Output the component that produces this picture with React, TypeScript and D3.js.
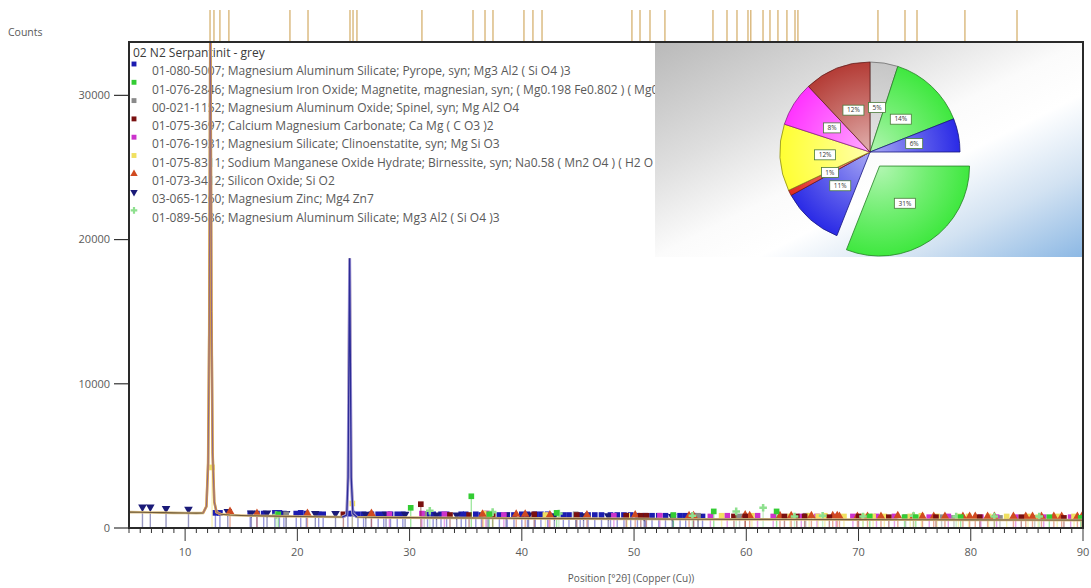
import React from 'react';
import * as d3 from 'd3';

// ---------------- data ----------------
const sampleName = '02 N2 Serpantinit - grey';
const phaseRefs = [
  '01-080-5007; Magnesium Aluminum Silicate; Pyrope, syn; Mg3 Al2 ( Si O4 )3',
  '01-076-2846; Magnesium Iron Oxide; Magnetite, magnesian, syn; ( Mg0.198 Fe0.802 ) ( Mg0.802 Fe1.198 ) O4',
  '00-021-1152; Magnesium Aluminum Oxide; Spinel, syn; Mg Al2 O4',
  '01-075-3697; Calcium Magnesium Carbonate; Ca Mg ( C O3 )2',
  '01-076-1931; Magnesium Silicate; Clinoenstatite, syn; Mg Si O3',
  '01-075-8311; Sodium Manganese Oxide Hydrate; Birnessite, syn; Na0.58 ( Mn2 O4 ) ( H2 O )1.5',
  '01-073-3412; Silicon Oxide; Si O2',
  '03-065-1260; Magnesium Zinc; Mg4 Zn7',
  '01-089-5686; Magnesium Aluminum Silicate; Mg3 Al2 ( Si O4 )3',
];

// measured scan: [2theta, counts]
const scanPoints: [number, number][] = [
  [5, 1100], [6, 1090], [7, 1080], [8, 1065], [9, 1050], [10, 1040], [11, 1030], [11.6, 1040],
  [11.9, 1500], [12.05, 4500], [12.15, 14000], [12.25, 36000], [12.35, 15000], [12.45, 5200],
  [12.6, 1800], [12.8, 1100], [13.2, 950], [14, 900], [15, 870], [16, 850], [18, 820], [20, 800],
  [22, 780], [24, 760], [24.4, 900], [24.52, 3500], [24.6, 12000], [24.66, 18700], [24.72, 12000],
  [24.8, 3500], [24.95, 1000], [25.3, 760], [27, 740], [30, 720], [33, 700], [36, 690], [40, 670],
  [45, 650], [50, 630], [55, 610], [60, 600], [65, 590], [70, 580], [75, 570], [80, 560], [85, 550], [90, 545],
];

// peak list positions (top ticks), 2theta
const peakListPositions = [
  12.22, 12.57, 13.1, 13.9, 19.34, 20.95, 24.69, 24.96, 25.31, 31.1, 35.65, 36.72, 37.43,
  40.19, 40.99, 41.8, 49.81, 50.53, 51.42, 52.75, 57.03, 58.28, 59.17, 60.15, 60.4, 61.49,
  62.11, 62.82, 63.62, 64.34, 64.6, 71.73, 74.14, 75.21, 79.48, 84.12,
];

// reference stick patterns: [2theta, counts]
const pyropeSticks: [number, number][] = [
  [12.7, 1050], [13.1, 1050], [15.8, 1000], [16.4, 1000], [17.0, 1000], [18.0, 1050], [18.4, 1050],
  [18.8, 1000], [19.9, 1000], [20.3, 1050], [20.8, 1000], [21.9, 950], [22.3, 950], [24.5, 1000],
  [24.9, 1000], [25.4, 950], [25.9, 950], [26.6, 950], [27.2, 950], [27.7, 950], [28.3, 950],
  [28.9, 950], [29.4, 950], [31.6, 950], [32.1, 950], [32.8, 950], [33.3, 950], [34.6, 950],
  [35.0, 950], [35.9, 950], [36.4, 900], [37.0, 900], [38.0, 900], [38.7, 900], [39.3, 900],
  [40.0, 950], [40.5, 950], [41.2, 950], [41.7, 950], [42.3, 950], [43.7, 900], [44.2, 900],
  [44.8, 900], [45.2, 900], [45.9, 900], [46.5, 900], [47.1, 900], [47.9, 900], [48.5, 900],
  [49.1, 900], [49.7, 900], [50.3, 850], [51.0, 850], [51.6, 850], [52.2, 850], [52.8, 850],
  [53.5, 850], [54.1, 850], [54.6, 850], [55.3, 850], [56.1, 800],
];
const magnetiteSticks: [number, number][] = [
  [18.3, 950], [30.1, 1400], [35.5, 2200], [37.1, 950], [43.1, 1050], [53.5, 900], [57.1, 1150],
  [62.7, 1150], [71.0, 800], [74.1, 750], [75.1, 750], [79.1, 750], [87.0, 750], [89.8, 700],
];
const spinelSticks: [number, number][] = [
  [19.0, 950], [31.3, 950], [36.9, 1000], [44.8, 950], [55.7, 850], [59.4, 800], [65.3, 850],
  [74.2, 750], [77.4, 750], [78.5, 700], [82.6, 700], [85.7, 700],
];
const dolomiteSticks: [number, number][] = [
  [24.1, 950], [31.0, 1650], [33.6, 900], [35.3, 900], [37.4, 900], [41.1, 950], [44.9, 900],
  [49.3, 850], [50.6, 850], [51.1, 850], [58.9, 800], [59.9, 800], [63.4, 800], [64.5, 800],
  [65.2, 800], [67.4, 750], [70.0, 800], [72.7, 750], [76.9, 750], [80.8, 750], [84.5, 750], [88.3, 700],
];
const clinoenstatiteSticks: [number, number][] = [
  [28.2, 950], [31.1, 1000], [33.1, 950], [36.8, 1000], [38.4, 900], [42.4, 900], [48.2, 850],
  [52.3, 850], [56.8, 800], [58.3, 850], [61.0, 850], [62.4, 800], [64.9, 800], [66.3, 800],
  [68.0, 800], [69.5, 800], [71.6, 800], [73.2, 800], [76.3, 750], [78.0, 800], [80.9, 750],
  [82.3, 750], [84.0, 750], [86.5, 750], [88.9, 750],
];
const birnessiteSticks: [number, number][] = [
  [12.4, 4200], [24.9, 1700], [36.6, 1000], [37.4, 950], [42.1, 900], [49.4, 850], [57.8, 850],
  [60.5, 850], [63.9, 800], [65.6, 850], [66.4, 800], [67.0, 850], [68.7, 800], [70.4, 800],
  [71.3, 800], [72.3, 800], [74.6, 800], [75.6, 850], [77.0, 800], [78.9, 800], [79.8, 800],
  [81.6, 800], [83.2, 800], [85.1, 800], [86.0, 750], [87.7, 800], [89.2, 800],
];
const silicaSticks: [number, number][] = [
  [14.0, 1150], [16.4, 1000], [20.9, 1000], [26.6, 1000], [36.5, 950], [39.5, 950], [40.3, 950],
  [42.5, 900], [45.8, 900], [50.1, 900], [54.9, 850], [55.3, 850], [59.9, 900], [60.3, 850],
  [63.0, 850], [64.0, 850], [65.8, 850], [67.7, 850], [68.1, 850], [68.3, 800], [69.9, 800],
  [70.8, 800], [72.0, 800], [73.5, 850], [74.9, 800], [75.7, 800], [76.7, 800], [77.7, 800],
  [79.3, 800], [79.9, 800], [80.4, 800], [81.5, 800], [82.1, 800], [83.8, 800], [84.9, 800],
  [85.5, 800], [86.3, 800], [87.4, 800], [88.1, 800], [89.5, 800], [89.9, 800],
];
const mgZnSticks: [number, number][] = [
  [6.2, 1450], [6.9, 1450], [8.3, 1350], [10.3, 1300], [13.8, 1150], [15.9, 1050], [17.3, 1050],
  [19.0, 1000], [21.6, 1000], [23.4, 1000], [26.1, 950], [27.9, 950], [29.6, 950], [32.4, 900],
  [34.2, 900], [38.6, 900], [40.6, 900], [42.9, 850], [45.5, 850], [47.7, 850], [50.9, 800],
  [53.4, 800], [55.7, 800],
];
const garnetSticks: [number, number][] = [
  [18.1, 900], [31.8, 1200], [37.4, 1100], [43.3, 1000], [55.2, 850], [59.1, 1150], [61.5, 1400],
  [64.3, 800], [66.8, 850], [70.4, 800], [74.9, 850], [78.7, 800], [82.1, 800], [86.1, 800],
];

const xTickValues = [10, 20, 30, 40, 50, 60, 70, 80, 90];
const yTickValues = [0, 10000, 20000, 30000];
const xTitle = 'Position [°2θ] (Copper (Cu))';
const yTitle = 'Counts';

// semi-quantitative pie (%), same order as drawn clockwise from top
const pieValues = [5, 14, 6, 31, 11, 1, 12, 8, 12];
const explodedSlice = 3;

// ---------------- styles ----------------
const phaseColors = ['#1c1cb0', '#33cc33', '#8a8a8a', '#7a1010', '#cc33cc', '#f0e060', '#d04a20', '#1a1a78', '#8ee08e'];
const phaseShapes = ['square', 'square', 'square', 'square', 'square', 'square', 'triangle', 'triangleDown', 'cross'];
const pieColors = ['#c6c6c6', '#3fe83f', '#2a2ae6', '#3fe83f', '#2a2ae6', '#e02a20', '#ffff33', '#ff33ff', '#b43c36'];

const X0 = 129, X1 = 1083, Y0 = 528, Y1 = 42;

function symbolPath(shape: string, size: number) {
  const t = shape === 'square' ? d3.symbolSquare : shape === 'cross' ? d3.symbolCross : d3.symbolTriangle;
  return d3.symbol().type(t).size(size)() as string;
}

export default function App() {
  const x = d3.scaleLinear().domain([5, 90]).range([X0, X1]);
  const y = d3.scaleLinear().domain([0, 33700]).range([Y0, Y1]);
  const line = d3.line<[number, number]>().x(d => x(d[0])).y(d => y(d[1]));

  const allSticks = [pyropeSticks, magnetiteSticks, spinelSticks, dolomiteSticks, clinoenstatiteSticks,
    birnessiteSticks, silicaSticks, mgZnSticks, garnetSticks];
  const drawOrder = [0, 7, 2, 4, 5, 6, 3, 8, 1];

  const peak1 = scanPoints.filter(p => p[0] >= 11.6 && p[0] <= 13.2);
  const peak2 = scanPoints.filter(p => p[0] >= 24.0 && p[0] <= 25.3);

  const minorTicks = d3.range(5, 91, 1);

  // pie
  const pcx = 870, pcy = 152, pr = 90;
  const arcs = d3.pie<number>().sort(null).value(d => d)(pieValues);
  const arcGen = d3.arc<d3.PieArcDatum<number>>().innerRadius(0).outerRadius(pr);

  const textColor = '#5a5a5a';
  const legendFont = 12;

  return (
    <div style={{ position: 'absolute', left: 0, top: 0 }}>
      <svg width={1091} height={588} style={{ display: 'block', background: '#fff', fontFamily: '"Open Sans", "DejaVu Sans", sans-serif' }}>
        <defs>
          <clipPath id="plotClip">
            <rect x={X0} y={Y1} width={X1 - X0} height={Y0 - Y1} />
          </clipPath>
          <linearGradient id="panelBg" x1="0" y1="0" x2="1" y2="1">
            <stop offset="0" stopColor="#b9b9b9" />
            <stop offset="0.3" stopColor="#dedede" />
            <stop offset="0.5" stopColor="#fbfbfb" />
            <stop offset="0.62" stopColor="#ffffff" />
            <stop offset="0.8" stopColor="#d2e2f2" />
            <stop offset="1" stopColor="#8cb8e4" />
          </linearGradient>
          {pieColors.map((c, i) => (
            <radialGradient key={i} id={`pg${i}`} gradientUnits="userSpaceOnUse" cx={0} cy={0} r={pr}>
              <stop offset="0" stopColor={d3.interpolateRgb(c, '#ffffff')(0.6)} />
              <stop offset="0.55" stopColor={d3.interpolateRgb(c, '#ffffff')(0.25)} />
              <stop offset="1" stopColor={c} />
            </radialGradient>
          ))}
        </defs>

        {/* y title */}
        <text x={8} y={36} fontSize={10.5} fill={textColor}>{yTitle}</text>

        {/* peak list ticks above plot */}
        {peakListPositions.map((p, i) => (
          <line key={i} x1={x(p)} x2={x(p)} y1={10} y2={Y1} stroke="#d9b77a" strokeWidth={1.4} />
        ))}

        {/* y axis ticks */}
        {yTickValues.map(v => (
          <g key={v}>
            <line x1={114} x2={X0} y1={y(v)} y2={y(v)} stroke="#333" strokeWidth={1.2} />
            <text x={110} y={y(v)} dy="0.35em" textAnchor="end" fontSize={11} fill={textColor}>{v}</text>
          </g>
        ))}

        {/* x axis ticks */}
        {minorTicks.map(v => (
          <line key={v} x1={x(v)} x2={x(v)} y1={Y0} y2={Y0 + (v % 10 === 0 ? 13 : 5)} stroke="#333" strokeWidth={1} />
        ))}
        {xTickValues.map(v => (
          <text key={v} x={x(v)} y={552} dy="0.35em" textAnchor="middle" fontSize={11} fill={textColor}>{v}</text>
        ))}
        <text x={631} y={578} dy="0.35em" textAnchor="middle" fontSize={10} fill={textColor}>{xTitle}</text>

        {/* legend */}
        <text x={133} y={53} dy="0.35em" fontSize={legendFont} fill="#3a3a3a">{sampleName}</text>
        {phaseRefs.map((t, i) => {
          const ty = 71 + 18.3 * i;
          return (
            <g key={i}>
              <path d={symbolPath(phaseShapes[i], 24)} transform={`translate(134,${ty - 7})${phaseShapes[i] === 'triangleDown' ? ' rotate(180)' : ''}`} fill={phaseColors[i]} />
              <text x={152} y={ty} dy="0.35em" fontSize={legendFont} fill={textColor}>{t}</text>
            </g>
          );
        })}

        {/* sticks + scan */}
        <g clipPath="url(#plotClip)">
          {drawOrder.map(pi => (
            <g key={pi}>
              {allSticks[pi].map((s, j) => (
                <line key={j} x1={x(s[0])} x2={x(s[0])} y1={y(0)} y2={y(s[1])} stroke={phaseColors[pi]} strokeOpacity={0.45} strokeWidth={1.4} />
              ))}
              {allSticks[pi].map((s, j) => (
                <path key={'m' + j} d={symbolPath(phaseShapes[pi], 32)}
                  transform={`translate(${x(s[0])},${y(s[1])})${phaseShapes[pi] === 'triangleDown' ? ' rotate(180)' : ''}`}
                  fill={phaseColors[pi]} />
              ))}
            </g>
          ))}
          <path d={line(scanPoints) as string} fill="none" stroke="#d9bc84" strokeWidth={2.6} />
          <path d={line(scanPoints) as string} fill="none" stroke="#6e5a3a" strokeWidth={1.1} />
          <path d={line(peak1) as string} fill="none" stroke="#d89c48" strokeWidth={2.4} />
          <path d={line(peak1) as string} fill="none" stroke="#7a5a9a" strokeWidth={0.8} />
          <path d={line(peak2) as string} fill="none" stroke="#a49ad8" strokeWidth={3} />
          <path d={line(peak2) as string} fill="none" stroke="#2c2c96" strokeWidth={1.3} />
        </g>

        {/* pie panel */}
        <rect x={655} y={Y1} width={X1 - 655} height={257 - Y1} fill="url(#panelBg)" />
        <g transform={`translate(${pcx},${pcy})`}>
          {arcs.map((a, i) => {
            const mid = (a.startAngle + a.endAngle) / 2;
            const off = i === explodedSlice ? 17 : 0;
            const dx = Math.sin(mid) * off, dy = -Math.cos(mid) * off;
            return (
              <g key={i} transform={`translate(${dx},${dy})`}>
                <path d={arcGen(a) as string} fill={`url(#pg${i})`} stroke={d3.interpolateRgb(pieColors[i], '#000')(0.45)} strokeWidth={0.8} />
              </g>
            );
          })}
          {arcs.map((a, i) => {
            const mid = (a.startAngle + a.endAngle) / 2;
            const off = i === explodedSlice ? 17 : 0;
            const [cx, cy] = arcGen.centroid(a);
            const lx = cx + Math.sin(mid) * off, ly = cy - Math.cos(mid) * off;
            const label = `${a.data}%`;
            const w = label.length > 2 ? 21 : 17;
            return (
              <g key={'l' + i} transform={`translate(${lx},${ly})`}>
                <rect x={-w / 2} y={-5} width={w} height={10} fill="#fff" stroke="#4a7a3a" strokeWidth={0.8} />
                <text x={0} y={0} dy="0.35em" textAnchor="middle" fontSize={6.5} fill="#333">{label}</text>
              </g>
            );
          })}
        </g>

        {/* frame */}
        <rect x={X0} y={Y1} width={X1 - X0} height={Y0 - Y1} fill="none" stroke="#2a2a2a" strokeWidth={2} />
      </svg>
    </div>
  );
}
